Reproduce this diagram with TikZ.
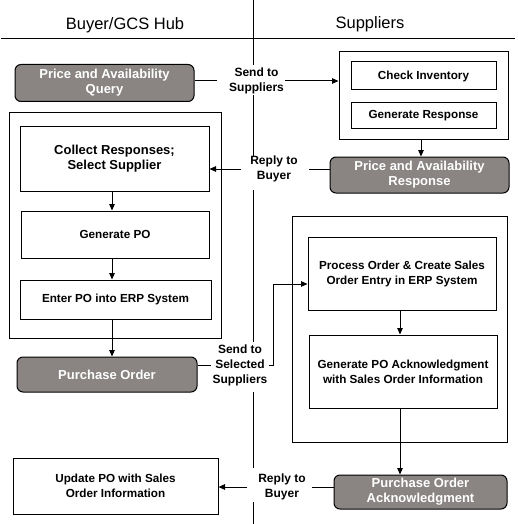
\documentclass[tikz,border=0pt]{standalone}
\usepackage{fontspec}
\setmainfont{Liberation Sans}
\usetikzlibrary{arrows.meta}
\definecolor{boxgray}{HTML}{8A8483}
\tikzset{
  pbox/.style={draw=black, line width=1pt, fill=white, minimum width=#1, inner sep=0pt, align=center,
     font=\fontsize{11.7}{15}\selectfont\bfseries},
  gbox/.style={draw=black, line width=1pt, fill=boxgray, rounded corners=6pt, minimum width=#1, inner sep=0pt,
     align=center, text=white, font=\fontsize{13}{15}\selectfont\bfseries},
  frame/.style={draw=black, line width=1pt, inner sep=0pt},
  lab/.style={align=center, inner sep=1pt, font=\fontsize{12}{15}\selectfont\bfseries},
  conn/.style={line width=1pt},
  arr/.style={line width=1pt, -{Triangle[length=6.5pt,width=5.5pt]}},
  head/.style={font=\fontsize{16.5}{18}\selectfont}
}
\begin{document}
\begin{tikzpicture}[x=1pt,y=-1pt]
\useasboundingbox (0,0) rectangle (518,524);
% headers and divider
\node[head] (hbuyer) at (125,25) {Buyer/GCS Hub};
\node[head] (hsupp) at (370,24) {Suppliers};
\draw[conn] (1,39) -- (515,39);
\draw[conn] (253,0) -- (253,65);
\draw[conn] (253,95) -- (253,157);
\draw[conn] (253,190) -- (253,342);
\draw[conn] (253,392) -- (253,468);
\draw[conn] (253,502) -- (253,524);
% frames
\node[frame, minimum width=169pt, minimum height=87pt] (sbox1) at (423.5,95.5) {};
\node[frame, minimum width=212pt, minimum height=225pt] (lbox) at (115,225.5) {};
\node[frame, minimum width=215pt, minimum height=226pt] (sbox2) at (399.5,329) {};
% boxes
\node[gbox=179pt, minimum height=37pt] (query) at (104.5,83) {Price and Availability\\Query};
\node[pbox=145pt, minimum height=28pt] (checkinv) at (423.5,76) {Check Inventory};
\node[pbox=145pt, minimum height=25pt] (genresp) at (423.5,115.5) {Generate Response};
\node[gbox=179pt, minimum height=36pt] (par) at (419.5,175) {Price and Availability\\Response};
\node[pbox=189pt, minimum height=65pt, font=\fontsize{13}{15}\selectfont\bfseries] (collect) at (114.5,158.5) {Collect Responses;\\Select Supplier};
\node[pbox=188pt, minimum height=47pt] (genpo) at (115,234.5) {Generate PO};
\node[pbox=191pt, minimum height=39pt] (enterpo) at (115.5,299.5) {Enter PO into ERP System};
\node[gbox=180pt, minimum height=35pt] (po) at (107,374.5) {Purchase Order};
\node[pbox=188pt, minimum height=73pt] (process) at (402,273.5) {Process Order \& Create Sales\\Order Entry in ERP System};
\node[pbox=188pt, minimum height=73pt] (genack) at (403,371.5) {Generate PO Acknowledgment\\with Sales Order Information};
\node[gbox=173pt, minimum height=34pt] (poa) at (420.5,492) {Purchase Order\\Acknowledgment};
\node[pbox=205pt, minimum height=56pt] (update) at (115.5,486) {Update PO with Sales\\Order Information};
% labels
\node[lab] (l1) at (256.5,81) {Send to\\Suppliers};
\node[lab] (l2) at (274,169) {Reply to\\Buyer};
\node[lab] (l3) at (240,365) {Send to\\Selected\\Suppliers};
\node[lab] (l4) at (282,487) {Reply to\\Buyer};
% connectors
\draw[conn] (query.east |- l1.west) -- ([xshift=-11pt]l1.west);
\draw[arr] (l1.east) -- (l1.east -| sbox1.west);
\draw[arr] (421,0 |- sbox1.south) -- (421,0 |- par.north);
\draw[conn] (par.west |- l2.west) -- ([xshift=10pt]l2.east);
\draw[arr] ([xshift=-8pt]l2.west) -- (l2.west -| collect.east);
\draw[arr] (112,0 |- collect.south) -- (112,0 |- genpo.north);
\draw[arr] (112,0 |- genpo.south) -- (112,0 |- enterpo.north);
\draw[arr] (112,0 |- enterpo.south) -- (112,0 |- po.north);
\draw[conn] (po.east |- l3.west) -- (l3.west);
\draw[arr] (l3.east) -- ++(5,0) |- ([yshift=-10.5pt]process.west);
\draw[arr] (400,0 |- process.south) -- (400,0 |- genack.north);
\draw[arr] (400,0 |- genack.south) -- (400,0 |- poa.north);
\draw[conn] (poa.west |- l4.east) -- ([xshift=5pt]l4.east);
\draw[arr] ([xshift=-10pt]l4.west) -- (l4.west -| update.east);
\end{tikzpicture}
\end{document}
